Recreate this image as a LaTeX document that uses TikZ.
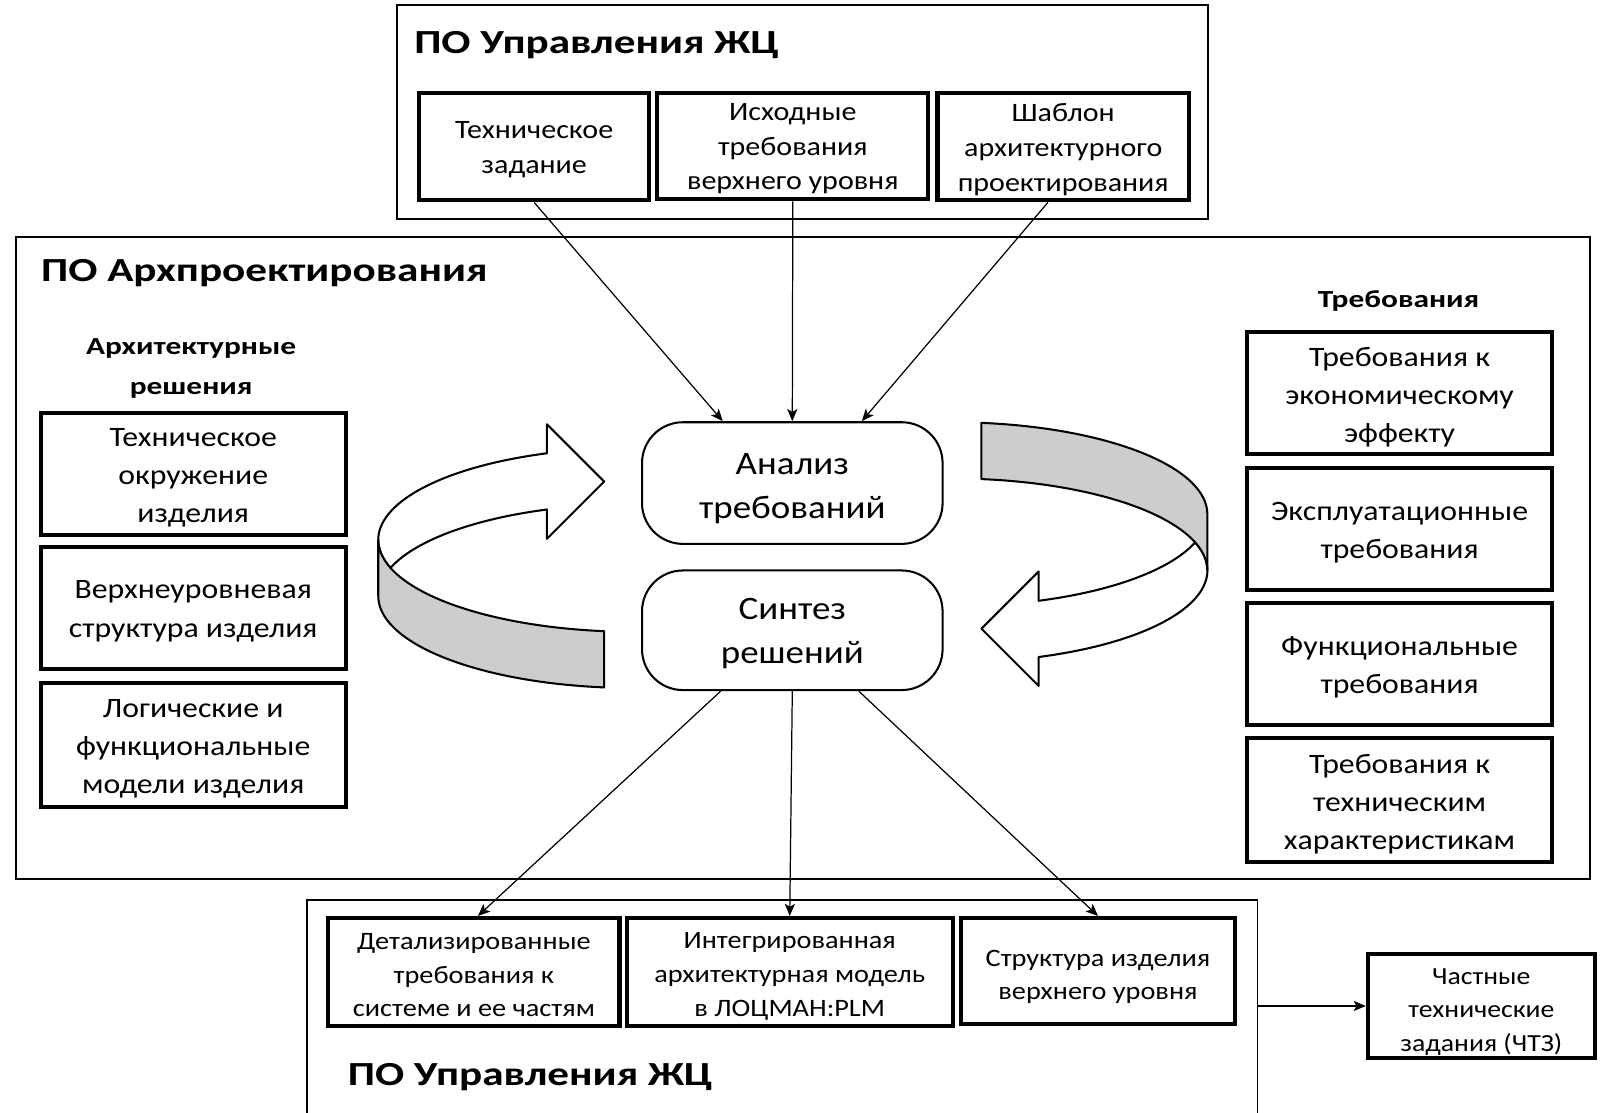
\documentclass[tikz,border=0pt]{standalone}
\usepackage{fontspec}
\setmainfont{Carlito}[FakeStretch=1.13]
\newfontfamily\boldwide{Carlito}[FakeStretch=1.28]
\usetikzlibrary{arrows.meta,calc}
\definecolor{ribgray}{RGB}{205,205,205}
\tikzset{
  outerbox/.style={draw, line width=1.8pt, inner sep=0pt},
  titletext/.style={inner sep=0pt, font=\boldwide\bfseries\fontsize{33}{40}\selectfont},
  headtext/.style={inner sep=0pt, align=center, font=\boldwide\bfseries\fontsize{24}{39}\selectfont},
  thickbox/.style={draw, line width=4pt, inner sep=0pt},
  sidebox/.style={thickbox, minimum width=298pt},
  toptext/.style={inner sep=0pt, align=center, font=\fontsize{26}{34}\selectfont},
  sidetext/.style={inner sep=0pt, align=center, font=\fontsize{27.5}{37.5}\selectfont},
  bottext/.style={inner sep=0pt, align=center, font=\fontsize{24.5}{33}\selectfont},
  procbox/.style={draw, line width=2pt, rounded corners=40pt, inner sep=0pt, minimum width=294pt},
  proctext/.style={inner sep=0pt, align=center, font=\fontsize{32}{43}\selectfont},
  conn/.style={line width=1.2pt, -{Stealth[length=12pt,width=10pt,inset=3pt]}},
  ribbonline/.style={line width=2pt, line join=round}
}
\newcommand{\myribbonpaths}{%
  \path[ribbonline, draw, fill=white]
    ([shift={(620,-528)}]109.88:250pt and 90pt)
    arc[start angle=109.88, end angle=197.79, x radius=250pt, y radius=90pt]
    arc[start angle=162.21, end angle=109.88, x radius=250pt, y radius=90pt]
    -- (535,-527) -- (591,-471) -- (535,-415) -- cycle;
  \path[ribbonline, draw, fill=ribgray]
    ([shift={(620,-528)}]197.79:250pt and 90pt)
    arc[start angle=197.79, end angle=263.34, x radius=250pt, y radius=90pt]
    -- ([shift={(620,-583)}]263.34:250pt and 90pt)
    arc[start angle=263.34, end angle=180, x radius=250pt, y radius=90pt]
    -- (370,-528)
    arc[start angle=180, end angle=197.79, x radius=250pt, y radius=90pt]
    -- cycle;
}
\begin{document}
\begin{tikzpicture}[x=1pt,y=1pt]
\useasboundingbox (0,0) rectangle (1568,-1088);

% ---------- top frame ----------
\node[outerbox, minimum width=794pt, minimum height=209pt] (topbox) at (785,-109.5) {};
\node[titletext, anchor=west] (toptitle) at (405,-44) {ПО Управления ЖЦ};
\node[thickbox, minimum width=225pt, minimum height=105pt] (t1) at (522.5,-143.5) {};
\node[toptext] (t1txt) at (522.5,-146.5) {Техническое\\задание};
\node[thickbox, minimum width=265pt, minimum height=104pt] (t2) at (775.5,-143) {};
\node[toptext] (t2txt) at (775.5,-145.5) {Исходные\\требования\\верхнего уровня};
\node[thickbox, minimum width=246pt, minimum height=105pt] (t3) at (1040,-143.5) {};
\node[toptext] (t3txt) at (1040,-146.5) {Шаблон\\архитектурного\\проектирования};

% ---------- main frame ----------
\node[outerbox, minimum width=1539pt, minimum height=628pt] (mainbox) at (785.5,-546) {};
\node[titletext, anchor=west] (maintitle) at (40,-267) {ПО Архпроектирования};

\node[headtext] (lhead) at (187,-360) {Архитектурные\\решения};
\node[sidebox, minimum height=119pt] (l1) at (189,-463.5) {};
\node[sidetext] (l1txt) at (189,-467.5) {Техническое\\окружение\\изделия};
\node[sidebox, minimum height=119pt] (l2) at (189,-594.5) {};
\node[sidetext] (l2txt) at (189,-598) {Верхнеуровневая\\структура изделия};
\node[sidebox, minimum height=121pt] (l3) at (189,-728.5) {};
\node[sidetext] (l3txt) at (189,-732.5) {Логические и\\функциональные\\модели изделия};

\node[headtext] (rhead) at (1368,-294) {Требования};
\node[sidebox, minimum height=119pt] (r1) at (1369,-384.5) {};
\node[sidetext] (r1txt) at (1369,-388.5) {Требования к\\экономическому\\эффекту};
\node[sidebox, minimum height=119pt] (r2) at (1369,-517.5) {};
\node[sidetext] (r2txt) at (1369,-521) {Эксплуатационные\\требования};
\node[sidebox, minimum height=119pt] (r3) at (1369,-649.5) {};
\node[sidetext] (r3txt) at (1369,-653) {Функциональные\\требования};
\node[sidebox, minimum height=121pt] (r4) at (1369,-782.5) {};
\node[sidetext] (r4txt) at (1369,-786.5) {Требования к\\техническим\\характеристикам};

\node[procbox, minimum height=119pt] (an) at (775,-472.5) {};
\node[proctext] (antxt) at (775,-477.5) {Анализ\\требований};
\node[procbox, minimum height=117pt] (sy) at (775,-616.5) {};
\node[proctext] (sytxt) at (775,-619.5) {Синтез\\решений};

% ribbons
\myribbonpaths
\begin{scope}[rotate around={180:(775.5,-543)}]
\myribbonpaths
\end{scope}

% ---------- bottom frame ----------
\node[outerbox, minimum width=930pt, minimum height=230pt] (botbox) at (765,-995) {};
\node[titletext, anchor=west] (bottitle) at (340,-1054) {ПО Управления ЖЦ};
\node[thickbox, minimum width=285pt, minimum height=106pt] (b1) at (463.5,-951) {};
\node[bottext] (b1txt) at (463.5,-954) {Детализированные\\требования к\\системе и ее частям};
\node[thickbox, minimum width=319pt, minimum height=106pt] (b2) at (772.5,-951) {};
\node[bottext] (b2txt) at (772.5,-955) {Интегрированная\\архитектурная модель\\в ЛОЦМАН:PLM};
\node[thickbox, minimum width=268pt, minimum height=104pt] (b3) at (1074,-950) {};
\node[bottext] (b3txt) at (1074,-955.5) {Структура изделия\\верхнего уровня};

\node[thickbox, minimum width=222pt, minimum height=102pt] (chtz) at (1449,-984) {};
\node[bottext, font=\fontsize{24}{32.5}\selectfont] (chtztxt) at (1449,-990) {Частные\\технические\\задания (ЧТЗ)};

% ---------- connectors ----------
\draw[conn] (t1.south) -- ($(an.north)+(-68,0)$);
\draw[conn] (t2.south) -- (an.north);
\draw[conn] ($(t3.south)+(-15,0)$) -- ($(an.north)+(68,0)$);

\draw[conn] ($(sy.south)+(-70,0)$) -- ($(b1.north)+(4,0)$);
\draw[conn] (sy.south) -- (b2.north);
\draw[conn] ($(sy.south)+(65,0)$) -- (b3.north);

\draw[conn] (chtz.west -| botbox.east) -- (chtz.west);
\end{tikzpicture}
\end{document}
